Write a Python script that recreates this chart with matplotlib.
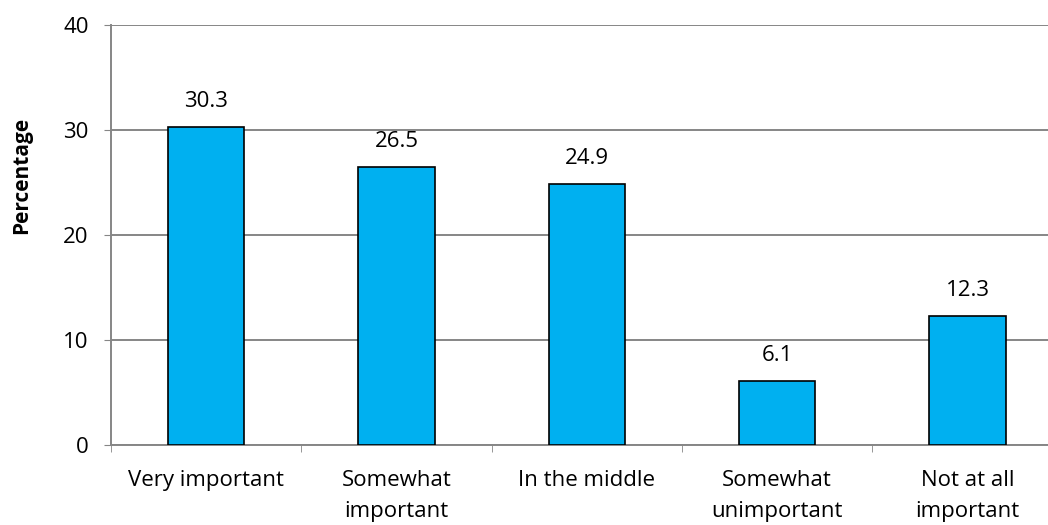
import matplotlib
matplotlib.use("Agg")
from matplotlib import pyplot as plt
import numpy as np

categories = ["Very important", "Somewhat\nimportant", "In the middle",
              "Somewhat\nunimportant", "Not at all\nimportant"]
values = [30.3, 26.5, 24.9, 6.1, 12.3]
yticks = [0, 10, 20, 30, 40]

plt.rcParams['font.family'] = ['Open Sans', 'DejaVu Sans']
FS = 16

fig = plt.figure(figsize=(10.48, 5.25), dpi=100)
ax = fig.add_axes([0.106, 0.152, 0.908, 0.8])

x = np.arange(len(categories))
bars = ax.bar(x, values, width=0.4, color="#00B0F0", edgecolor="black",
              linewidth=1.2, zorder=3)
for b, v in zip(bars, values):
    ax.text(b.get_x() + b.get_width() / 2, v + 1.9, f"{v:.1f}",
            ha="center", va="baseline", fontsize=FS)

ax.set_ylim(0, 40)
ax.set_xlim(-0.5, len(categories) - 0.5)
ax.set_yticks(yticks)
ax.tick_params(axis="y", labelsize=FS, length=5, color="#868686", pad=11)
ax.yaxis.grid(True, color="#868686", linewidth=1.4, zorder=0)

ax.set_xticks(x)
ax.set_xticklabels(categories, fontsize=FS, linespacing=1.6)
ax.set_xticks(np.arange(len(categories) + 1) - 0.5, minor=True)
ax.tick_params(axis="x", which="major", length=0, pad=18)
ax.tick_params(axis="x", which="minor", length=5, color="#868686")

for s in ["top", "right"]:
    ax.spines[s].set_visible(False)
for s in ["left", "bottom"]:
    ax.spines[s].set_color("#868686")
    ax.spines[s].set_linewidth(1.4)

fig.text(22 / 1048, 1 - 175 / 525, "Percentage", rotation=90,
         ha="center", va="center", fontsize=15, fontweight="bold")

fig.savefig("out.png", dpi=100)
